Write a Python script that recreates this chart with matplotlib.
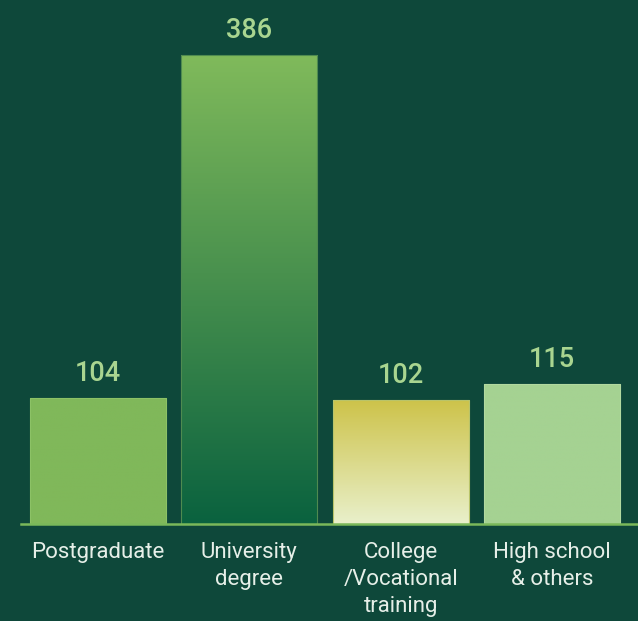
import numpy as np
import matplotlib
matplotlib.use('Agg')
import matplotlib.pyplot as plt
from matplotlib.colors import LinearSegmentedColormap

# data
categories = ['Postgraduate', 'University\ndegree', 'College\n/Vocational\ntraining', 'High school\n& others']
values = [104, 386, 102, 115]

bg = '#0e483a'
label_col = '#a9d590'
text_col = '#e6efe8'

# fill per bar: (top colour, bottom colour)
fills = [('#80b85a', '#80b85a'),
         ('#80ba5b', '#0a623f'),
         ('#cdc34a', '#e9f0cb'),
         ('#a5d292', '#a5d292')]
edges = ['#8cc266', '#4f8a50', '#b9c46a', '#b2d9a0']

plt.rcParams['font.family'] = ['Roboto', 'DejaVu Sans']

fig = plt.figure(figsize=(6.38, 6.21), dpi=100, facecolor=bg)
ax = fig.add_axes([21 / 638, 1 - 524 / 621, 1 - 21 / 638, 524 / 621])
ax.set_facecolor(bg)

x = np.arange(len(values))
bars = ax.bar(x, values, width=0.9, color='none', edgecolor='none')

ax.set_xlim(-0.509, 3.568)
ax.set_ylim(0, 386 * 524 / 469)

grad = np.linspace(0, 1, 256).reshape(-1, 1)
for b, (top, bot), ec in zip(bars, fills, edges):
    cmap = LinearSegmentedColormap.from_list('g', [bot, top])
    x0, y0 = b.get_x(), b.get_y()
    w, h = b.get_width(), b.get_height()
    im = ax.imshow(grad, cmap=cmap, origin='lower', aspect='auto',
                   extent=[x0, x0 + w, y0, y0 + h], zorder=2)
    im.set_clip_path(b)
    ax.add_patch(plt.Rectangle((x0, y0), w, h, fill=False, ec=ec, lw=0.8, zorder=3))

for xi, v in zip(x, values):
    ax.annotate(str(v), (xi, v), xytext=(0, 8), textcoords='offset points',
                ha='center', va='bottom', color=label_col, fontsize=19.5,
                fontweight='medium')

ax.axhline(0, color='#7ab85a', lw=1.8, zorder=4, clip_on=False)

ax.set_xticks(x)
ax.set_xticklabels(categories, color=text_col, fontsize=16, linespacing=1.38)
ax.tick_params(axis='x', length=0, pad=13)
ax.set_yticks([])
for s in ax.spines.values():
    s.set_visible(False)

fig.savefig('out.png', dpi=100, facecolor=bg)
